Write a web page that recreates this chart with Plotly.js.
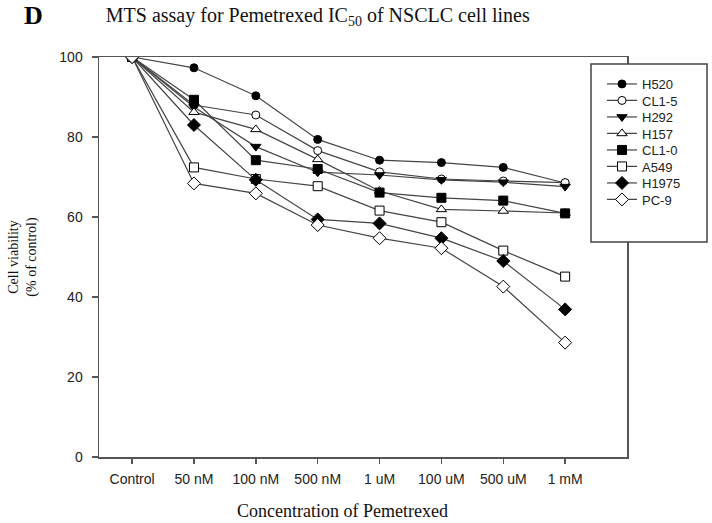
<!DOCTYPE html>
<html>
<head>
<meta charset="utf-8">
<script src="https://cdn.plot.ly/plotly-3.0.1.min.js"></script>
<style>html,body{margin:0;padding:0;background:#fff;}#chart{width:712px;height:523px;}</style>
</head>
<body>
<div id="chart"></div>
<script>
const categories = ["Control", "50 nM", "100 nM", "500 nM", "1 uM", "100 uM", "500 uM", "1 mM"];
const seriesNames = ["H520", "CL1-5", "H292", "H157", "CL1-0", "A549", "H1975", "PC-9"];
const H520  = [100, 97.3, 90.3, 79.4, 74.2, 73.6, 72.4, 68.5];
const CL1_5 = [100, 88.0, 85.5, 76.6, 71.3, 69.5, 69.0, 68.6];
const H292  = [100, 87.5, 77.6, 71.2, 70.5, 69.3, 68.7, 67.6];
const H157  = [100, 86.2, 81.9, 74.4, 66.5, 61.9, 61.5, 61.0];
const CL1_0 = [100, 89.3, 74.2, 72.0, 66.1, 64.8, 64.1, 60.9];
const A549  = [100, 72.4, 69.5, 67.7, 61.6, 58.7, 51.6, 45.1];
const H1975 = [100, 83.0, 69.3, 59.4, 58.4, 54.7, 49.0, 36.9];
const PC9   = [100, 68.4, 65.9, 58.0, 54.7, 52.2, 42.6, 28.6];
const seriesValues = [H520, CL1_5, H292, H157, CL1_0, A549, H1975, PC9];

const symbols = ["circle", "circle", "triangle-down", "triangle-up", "square", "square", "diamond", "diamond"];
const fills   = ["#000", "#fff", "#000", "#fff", "#000", "#fff", "#000", "#fff"];
const sizes   = [8, 8, 9, 9, 9, 9, 10, 10];

// plot area in pixels: x 99..627, y 57..457
const L = 99, W = 528, B = 457, H = 400;
const legendRowsPx = [84, 100.5, 117, 133.5, 150, 166.5, 183, 199.5];

const traces = seriesNames.map((n, i) => ({
  type: "scatter", mode: "lines+markers", name: n,
  legend: i === 0 ? "legend" : "legend" + (i + 1),
  x: categories, y: seriesValues[i],
  line: {color: "#444", width: 1.2},
  marker: {symbol: symbols[i], size: sizes[i], color: fills[i], line: {color: "#000", width: 1}}
}));

const layout = {
  width: 712, height: 523,
  margin: {l: 99, r: 85, t: 57, b: 66},
  paper_bgcolor: "#fff", plot_bgcolor: "#fff",
  showlegend: true,
  title: {text: "MTS assay for Pemetrexed IC<sub>50</sub> of NSCLC cell lines",
          font: {family: "Liberation Serif", size: 20, color: "#111"},
          x: 295/712, xanchor: "center", y: 1 - 15/523, yanchor: "middle", xref: "paper"},
  xaxis: {
    type: "category", range: [-0.535, 8.0],
    showline: true, linecolor: "#555", linewidth: 1.5, mirror: true,
    ticks: "outside", ticklen: 5, tickcolor: "#555", tickwidth: 1.5,
    ticklabelstandoff: 4,
    showgrid: false, zeroline: false,
    tickfont: {family: "Liberation Sans", size: 14, color: "#222"}
  },
  yaxis: {
    range: [0, 100], tickvals: [0, 20, 40, 60, 80, 100],
    showline: true, linecolor: "#555", linewidth: 1.5, mirror: true,
    ticks: "outside", ticklen: 6, tickcolor: "#555", tickwidth: 1.5,
    ticklabelstandoff: 6,
    showgrid: false, zeroline: false,
    tickfont: {family: "Liberation Sans", size: 14, color: "#222"},
    title: {text: "Cell viability<br>(% of control)", font: {family: "Liberation Serif", size: 14, color: "#111"}, standoff: 19}
  },
  shapes: [{
    type: "rect", xref: "paper", yref: "paper", layer: "above",
    x0: (591 - L) / W, x1: (707 - L) / W, y0: (B - 242) / H, y1: (B - 64) / H,
    fillcolor: "#fff", line: {color: "#444", width: 1.5}
  }],
  annotations: [{
    text: "<b>D</b>", xref: "paper", yref: "paper", showarrow: false,
    x: (33 - L) / W, y: (B - 15) / H, xanchor: "center", yanchor: "middle",
    font: {family: "Liberation Serif", size: 26, color: "#000"}
  }, {
    text: "Concentration of Pemetrexed", xref: "paper", yref: "paper", showarrow: false,
    x: (342 - L) / W, y: (B - 511) / H, xanchor: "center", yanchor: "middle",
    font: {family: "Liberation Serif", size: 18, color: "#111"}
  }]
};

legendRowsPx.forEach((py, i) => {
  const key = i === 0 ? "legend" : "legend" + (i + 1);
  layout[key] = {
    x: (602 - L) / W, y: (B - py) / H, xanchor: "left", yanchor: "middle",
    bgcolor: "rgba(0,0,0,0)", borderwidth: 0,
    font: {family: "Liberation Sans", size: 13, color: "#222"}
  };
});

Plotly.newPlot("chart", traces, layout, {displayModeBar: false, staticPlot: true});
</script>
</body>
</html>
